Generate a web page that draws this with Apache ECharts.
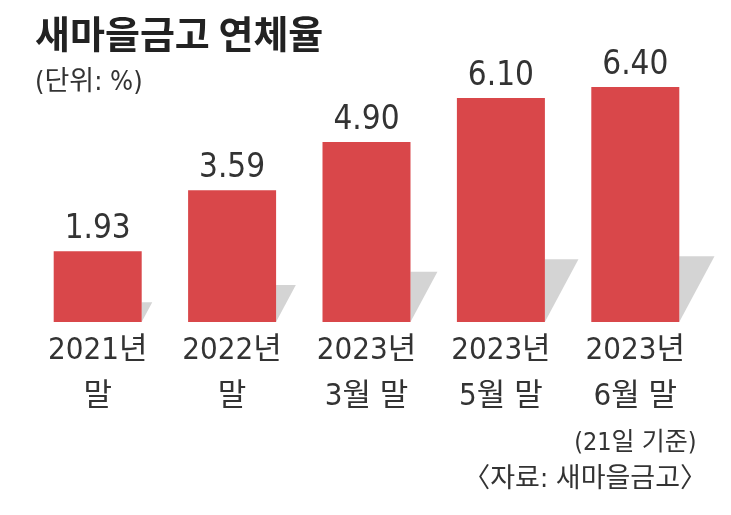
<!DOCTYPE html>
<html>
<head>
<meta charset="utf-8">
<script src="https://cdn.jsdelivr.net/npm/echarts@6/dist/echarts.min.js"></script>
<style>
html, body { margin: 0; padding: 0; background: #fff; }
#chart { width: 731px; height: 515px; }
</style>
</head>
<body>
<div id="chart"></div>
<script>
// 새마을금고 연체율 (단위: %)
const categories = ['2021년\n말', '2022년\n말', '2023년\n3월 말', '2023년\n5월 말', '2023년\n6월 말\n{s|(21일 기준)}'];
const rates = [1.93, 3.59, 4.90, 6.10, 6.40];

const numFont = "'DejaVu Sans Condensed', 'Noto Sans CJK KR', sans-serif";
const chart = echarts.init(document.getElementById('chart'));

// 막대 오른쪽 아래 회색 그림자
function renderShadow(params, api) {
    const top = api.coord([api.value(0), api.value(1)]);
    const base = api.coord([api.value(0), 0]);
    const half = api.size([1, 0])[0] * 0.327;
    const h = base[1] - top[1];
    const x = base[0] + half;
    return {
        type: 'polygon',
        shape: { points: [[x, base[1] - h * 0.28], [x + h * 0.15, base[1] - h * 0.28], [x, base[1]]] },
        style: { fill: '#d4d4d4' }
    };
}

chart.setOption({
    backgroundColor: '#fff',
    animation: false,
    grid: { left: 30.5, right: 28.5, top: 65, bottom: 193 },
    xAxis: {
        type: 'category',
        data: categories,
        axisLine: { show: false },
        axisTick: { show: false },
        axisLabel: {
            interval: 0,
            margin: 6,
            color: '#333',
            fontFamily: numFont,
            fontSize: 31,
            lineHeight: 46,
            rich: {
                s: { fontSize: 25, lineHeight: 46, color: '#333', fontFamily: numFont }
            }
        }
    },
    yAxis: {
        type: 'value',
        min: 0,
        max: 7,
        show: false,
        splitLine: { show: false }
    },
    graphic: [
        {
            type: 'text', left: 35, top: 15,
            style: { text: '새마을금고 연체율', fontSize: 38, fontWeight: 'bold', fill: '#222', fontFamily: "'Noto Sans CJK KR', sans-serif" }
        },
        {
            type: 'text', left: 35, top: 69,
            style: { text: '(단위: %)', fontSize: 27, fill: '#333', fontFamily: numFont }
        },
        {
            type: 'text', right: 24, top: 466,
            style: { text: '〈자료: 새마을금고〉', fontSize: 27, fill: '#333', fontFamily: numFont }
        }
    ],
    series: [
        {
            type: 'custom',
            renderItem: renderShadow,
            data: rates.map((v, i) => [i, v]),
            z: 1,
            silent: true
        },
        {
            type: 'bar',
            data: rates,
            barWidth: 88,
            z: 2,
            itemStyle: { color: '#d9474a' },
            label: {
                show: true,
                position: 'top',
                distance: 5,
                formatter: p => p.value.toFixed(2),
                color: '#333',
                fontSize: 33,
                fontFamily: numFont
            }
        }
    ]
});
</script>
</body>
</html>
